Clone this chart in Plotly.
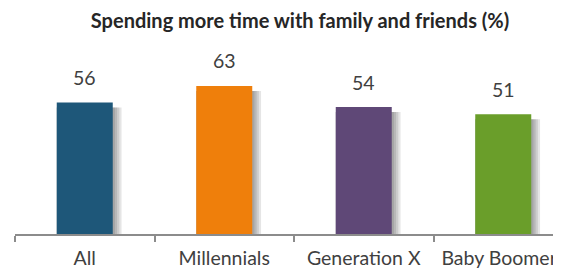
import plotly.graph_objects as go

categories = ["All", "Millennials", "Generation X", "Baby Boomers"]
values = [56, 63, 54, 51]
colors = ["#1e5779", "#ef7f0b", "#5f4877", "#6a9e2a"]
title_text = "Spending more time with family and friends (%)"

FONT = "Lato"
PAGE_OFF = 8  # default body margin of the html page
W, H = 561 - PAGE_OFF, 272 - PAGE_OFF
ML, MR, MT, MB = 15 - PAGE_OFF, 0, 40 - PAGE_OFF, 38
cat_px = 139.5
px_unit = 1.0 / cat_px
bar_w = 56 * px_unit
bar_off = -bar_w / 2
px_per_val = 2.35
ymax = (H - MT - MB) / px_per_val
xmax = -0.5 + (W - ML - MR) / cat_px

fig = go.Figure()

# soft shadow on the right of each bar
for k in range(1, 5):
    fig.add_trace(go.Bar(
        x=categories,
        y=[v - 5 / px_per_val for v in values],
        width=bar_w + k * 2.2 * px_unit,
        offset=bar_off,
        marker=dict(color="rgba(0,0,0,0.10)", line=dict(width=0)),
        hoverinfo="skip",
        showlegend=False,
    ))

fig.add_trace(go.Bar(
    x=categories,
    y=values,
    width=bar_w,
    offset=bar_off,
    marker=dict(color=colors, line=dict(width=0)),
    showlegend=False,
))

for c, v in zip(categories, values):
    fig.add_annotation(
        x=c, y=v, xref="x", yref="y",
        text=str(v), showarrow=False,
        yanchor="middle", yshift=25,
        font=dict(family=FONT, size=19.5, color="#404040"),
    )

fig.update_layout(
    width=W, height=H,
    margin=dict(l=ML, r=MR, t=MT, b=MB, pad=0),
    paper_bgcolor="white", plot_bgcolor="white",
    barmode="overlay",
    title=dict(
        text=title_text, x=(300 - PAGE_OFF) / W, xref="container", xanchor="center",
        y=1 - (21 - PAGE_OFF) / H, yref="container", yanchor="middle",
        font=dict(family=FONT, size=20, color="#262626", weight="bold"),
    ),
    xaxis=dict(
        type="category",
        range=[-0.5, xmax],
        showline=True, linecolor="#8c8c8c", linewidth=1.5,
        ticks="outside", tickson="boundaries", ticklen=6,
        tickcolor="#8c8c8c", tickwidth=1.5,
        showgrid=False, zeroline=False,
        tickfont=dict(family=FONT, size=19.5, color="#404040"),
        ticklabelstandoff=6,
        automargin=False,
    ),
    yaxis=dict(visible=False, range=[0, ymax], fixedrange=True),
)

fig.write_html("out.html")
